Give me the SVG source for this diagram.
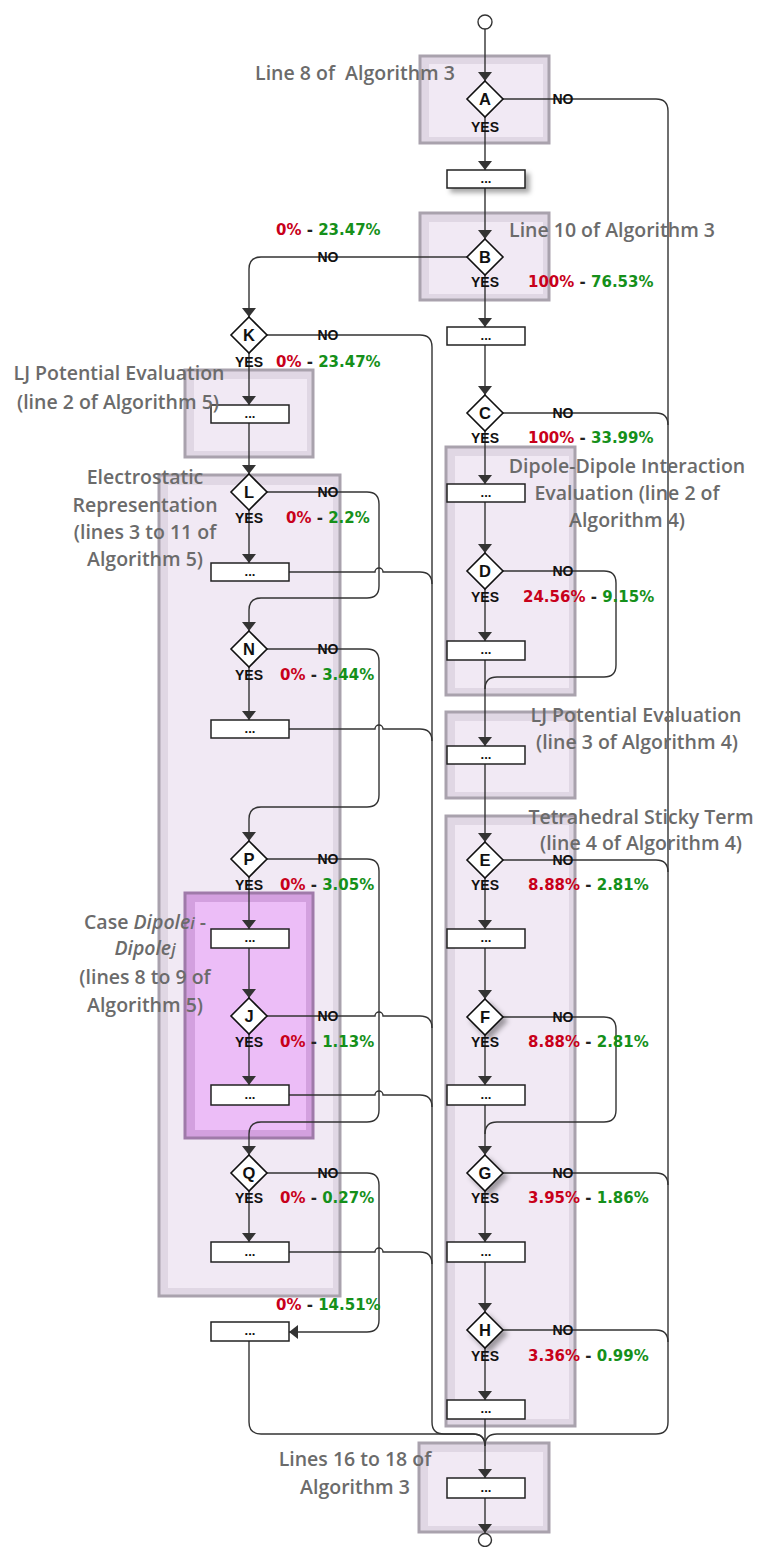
<svg xmlns="http://www.w3.org/2000/svg" width="759" height="1547" viewBox="0 0 759 1547">
<defs>
<style>
.ro{fill:#e0d7e4;stroke:#a9a2ad;stroke-width:3}
.ri{fill:#f1e9f4}
.co{fill:#d3a0df;stroke:#9f7aa9;stroke-width:3}
.ci{fill:#ecbdf7}
.ln{fill:none;stroke:#333;stroke-width:1.4}
.bx{fill:#fff;stroke:#222;stroke-width:1.5}
.dm{fill:#fff;stroke:#111;stroke-width:1.6}
.dl{font-family:"Liberation Sans",Arial,sans-serif;font-weight:bold;font-size:16.5px;fill:#111;text-anchor:middle}
.dt{font-family:"Liberation Sans",Arial,sans-serif;font-weight:bold;font-size:13px;fill:#111;text-anchor:middle}
.yn{font-family:"Liberation Sans",Arial,sans-serif;font-weight:bold;font-size:14px;fill:#111;text-anchor:middle}
.pc{font-family:"DejaVu Sans",sans-serif;font-weight:bold;font-size:15px}
.r{fill:#c8001a}.g{fill:#15901a}.k{fill:#222}
.lb{font-family:"Open Sans","Noto Sans",sans-serif;font-weight:600;font-size:19.5px;fill:#6b6b6b;text-anchor:middle}
</style>
<marker id="ar" viewBox="0 0 9 14" refX="9" refY="7" markerWidth="9" markerHeight="14" markerUnits="userSpaceOnUse" orient="auto"><path d="M0,0 L9,7 L0,14 z" fill="#333"/></marker>
<filter id="sh" x="-30%" y="-30%" width="170%" height="200%"><feDropShadow dx="4" dy="4" stdDeviation="2.5" flood-color="#000" flood-opacity="0.35"/></filter>
</defs>
<rect width="759" height="1547" fill="#fff"/>

<g id="regions">
<g id="reg-line8"><rect class="ro" x="420" y="56" width="129" height="87"/><rect class="ri" x="429" y="64" width="114" height="73"/></g>
<g id="reg-line10"><rect class="ro" x="420" y="213" width="129" height="87"/><rect class="ri" x="429" y="222" width="114" height="72"/></g>
<g id="reg-lj5"><rect class="ro" x="185" y="370" width="128" height="87"/><rect class="ri" x="194" y="379" width="113" height="72"/></g>
<g id="reg-electro"><rect class="ro" x="159" y="475" width="181" height="821"/><rect class="ri" x="168" y="485" width="165" height="803"/></g>
<g id="reg-case"><rect class="co" x="185" y="893" width="128" height="245"/><rect class="ci" x="195" y="902" width="111" height="228"/></g>
<g id="reg-dipole"><rect class="ro" x="446" y="447" width="129" height="248"/><rect class="ri" x="455" y="456" width="114" height="232"/></g>
<g id="reg-lj4"><rect class="ro" x="446" y="712" width="129" height="86"/><rect class="ri" x="455" y="721" width="114" height="71"/></g>
<g id="reg-tetra"><rect class="ro" x="446" y="816" width="129" height="610"/><rect class="ri" x="455" y="825" width="114" height="594"/></g>
<g id="reg-line16"><rect class="ro" x="419" y="1443" width="130" height="89"/><rect class="ri" x="428" y="1452" width="115" height="74"/></g>
</g>

<g id="connectors">
<path class="ln" d="M485,29 V81" marker-end="url(#ar)"/>
<path class="ln" d="M485,117 V170" marker-end="url(#ar)"/>
<path class="ln" d="M485,188 V239" marker-end="url(#ar)"/>
<path class="ln" d="M485,275 V327" marker-end="url(#ar)"/>
<path class="ln" d="M485,345 V395" marker-end="url(#ar)"/>
<path class="ln" d="M485,431 V484" marker-end="url(#ar)"/>
<path class="ln" d="M485,502 V553" marker-end="url(#ar)"/>
<path class="ln" d="M485,589 V641" marker-end="url(#ar)"/>
<path class="ln" d="M485,660 V746" marker-end="url(#ar)"/>
<path class="ln" d="M485,764 V842" marker-end="url(#ar)"/>
<path class="ln" d="M485,878 V929" marker-end="url(#ar)"/>
<path class="ln" d="M485,948 V999" marker-end="url(#ar)"/>
<path class="ln" d="M485,1035 V1085" marker-end="url(#ar)"/>
<path class="ln" d="M485,1105 V1155" marker-end="url(#ar)"/>
<path class="ln" d="M485,1191 V1242" marker-end="url(#ar)"/>
<path class="ln" d="M485,1262 V1312" marker-end="url(#ar)"/>
<path class="ln" d="M485,1348 V1400" marker-end="url(#ar)"/>
<path class="ln" d="M485,1419 V1478" marker-end="url(#ar)"/>
<path class="ln" d="M485,1498 V1533" marker-end="url(#ar)"/>
<path class="ln" d="M503,99 H656 Q668,99 668,111 V1422 Q668,1434 656,1434 H497 Q485,1434 485,1446"/>
<path class="ln" d="M503,413 H656 Q668,413 668,425"/>
<path class="ln" d="M503,860 H656 Q668,860 668,872"/>
<path class="ln" d="M503,1173 H656 Q668,1173 668,1185"/>
<path class="ln" d="M503,1330 H656 Q668,1330 668,1342"/>
<path class="ln" d="M503,571 H604 Q616,571 616,583 V665 Q616,677 604,677 H497 Q485,677 485,689"/>
<path class="ln" d="M503,1017 H604 Q616,1017 616,1029 V1110 Q616,1122 604,1122 H497 Q485,1122 485,1134"/>
<path class="ln" d="M467,257 H261 Q249,257 249,269 V317" marker-end="url(#ar)"/>
<path class="ln" d="M267,335 H420 Q432,335 432,347 V1422 Q432,1434 444,1434 H473 Q485,1434 485,1446"/>
<path class="ln" d="M249,353 V405" marker-end="url(#ar)"/>
<path class="ln" d="M249,423 V474" marker-end="url(#ar)"/>
<path class="ln" d="M249,510 V563" marker-end="url(#ar)"/>
<path class="ln" d="M267,492 H367 Q379,492 379,504 V586 Q379,598 367,598 H261 Q249,598 249,610 V631" marker-end="url(#ar)"/>
<path class="ln" d="M289,572 H375 A4,4 0 0 1 383,572 H420 Q432,572 432,584"/>
<path class="ln" d="M249,667 V720" marker-end="url(#ar)"/>
<path class="ln" d="M289,729 H375 A4,4 0 0 1 383,729 H420 Q432,729 432,741"/>
<path class="ln" d="M267,649 H367 Q379,649 379,661 V795 Q379,807 367,807 H261 Q249,807 249,819 V841" marker-end="url(#ar)"/>
<path class="ln" d="M249,877 V929" marker-end="url(#ar)"/>
<path class="ln" d="M249,948 V998" marker-end="url(#ar)"/>
<path class="ln" d="M267,1016 H375 A4,4 0 0 1 383,1016 H420 Q432,1016 432,1028"/>
<path class="ln" d="M249,1034 V1085" marker-end="url(#ar)"/>
<path class="ln" d="M289,1095 H375 A4,4 0 0 1 383,1095 H420 Q432,1095 432,1107"/>
<path class="ln" d="M267,859 H367 Q379,859 379,871 V1110 Q379,1122 367,1122 H261 Q249,1122 249,1134 V1155" marker-end="url(#ar)"/>
<path class="ln" d="M249,1191 V1242" marker-end="url(#ar)"/>
<path class="ln" d="M289,1252 H375 A4,4 0 0 1 383,1252 H420 Q432,1252 432,1264"/>
<path class="ln" d="M267,1173 H367 Q379,1173 379,1185 V1320 Q379,1332 367,1332 H289" marker-end="url(#ar)"/>
<path class="ln" d="M249,1341 V1422 Q249,1434 261,1434 H473 Q485,1434 485,1446"/>
</g>

<g id="start"><circle cx="485" cy="22" r="7" fill="#fff" stroke="#333" stroke-width="1.4"/></g>
<g id="end"><circle cx="485" cy="1540" r="6.5" fill="#fff" stroke="#333" stroke-width="1.4"/></g>

<g id="node-A"><path class="dm" d="M485,81 L503,99 L485,117 L467,99 Z"/><text class="dl" x="485" y="105">A</text></g>
<g id="box-1"><rect class="bx" x="447" y="170" width="78" height="18" filter="url(#sh)"/><text class="dt" x="486" y="183">...</text></g>
<g id="node-B"><path class="dm" d="M485,239 L503,257 L485,275 L467,257 Z"/><text class="dl" x="485" y="263">B</text></g>
<g id="box-2"><rect class="bx" x="447" y="327" width="78" height="18"/><text class="dt" x="486" y="340">...</text></g>
<g id="node-C"><path class="dm" d="M485,395 L503,413 L485,431 L467,413 Z"/><text class="dl" x="485" y="419">C</text></g>
<g id="box-3"><rect class="bx" x="447" y="484" width="78" height="18"/><text class="dt" x="486" y="497">...</text></g>
<g id="node-D"><path class="dm" d="M485,553 L503,571 L485,589 L467,571 Z"/><text class="dl" x="485" y="577">D</text></g>
<g id="box-4"><rect class="bx" x="447" y="641" width="78" height="19"/><text class="dt" x="486" y="654">...</text></g>
<g id="box-5"><rect class="bx" x="447" y="746" width="78" height="18"/><text class="dt" x="486" y="759">...</text></g>
<g id="node-E"><path class="dm" d="M485,842 L503,860 L485,878 L467,860 Z"/><text class="dl" x="485" y="866">E</text></g>
<g id="box-6"><rect class="bx" x="447" y="929" width="78" height="19"/><text class="dt" x="486" y="942">...</text></g>
<g id="node-F"><path class="dm" d="M485,999 L503,1017 L485,1035 L467,1017 Z" filter="url(#sh)"/><text class="dl" x="485" y="1023">F</text></g>
<g id="box-7"><rect class="bx" x="447" y="1085" width="78" height="20"/><text class="dt" x="486" y="1099">...</text></g>
<g id="node-G"><path class="dm" d="M485,1155 L503,1173 L485,1191 L467,1173 Z" filter="url(#sh)"/><text class="dl" x="485" y="1179">G</text></g>
<g id="box-8"><rect class="bx" x="447" y="1242" width="78" height="20"/><text class="dt" x="486" y="1256">...</text></g>
<g id="node-H"><path class="dm" d="M485,1312 L503,1330 L485,1348 L467,1330 Z" filter="url(#sh)"/><text class="dl" x="485" y="1336">H</text></g>
<g id="box-9"><rect class="bx" x="447" y="1400" width="78" height="19"/><text class="dt" x="486" y="1413">...</text></g>
<g id="box-final"><rect class="bx" x="447" y="1478" width="78" height="20"/><text class="dt" x="486" y="1492">...</text></g>

<g id="node-K"><path class="dm" d="M249,317 L267,335 L249,353 L231,335 Z"/><text class="dl" x="249" y="341">K</text></g>
<g id="box-lj5"><rect class="bx" x="211" y="405" width="78" height="18"/><text class="dt" x="250" y="418">...</text></g>
<g id="node-L"><path class="dm" d="M249,474 L267,492 L249,510 L231,492 Z"/><text class="dl" x="249" y="498">L</text></g>
<g id="box-L"><rect class="bx" x="211" y="563" width="78" height="18"/><text class="dt" x="250" y="576">...</text></g>
<g id="node-N"><path class="dm" d="M249,631 L267,649 L249,667 L231,649 Z"/><text class="dl" x="249" y="655">N</text></g>
<g id="box-N"><rect class="bx" x="211" y="720" width="78" height="18"/><text class="dt" x="250" y="733">...</text></g>
<g id="node-P"><path class="dm" d="M249,841 L267,859 L249,877 L231,859 Z"/><text class="dl" x="249" y="865">P</text></g>
<g id="box-P"><rect class="bx" x="211" y="929" width="78" height="19"/><text class="dt" x="250" y="942">...</text></g>
<g id="node-J"><path class="dm" d="M249,998 L267,1016 L249,1034 L231,1016 Z"/><text class="dl" x="249" y="1022">J</text></g>
<g id="box-J"><rect class="bx" x="211" y="1085" width="78" height="20"/><text class="dt" x="250" y="1099">...</text></g>
<g id="node-Q"><path class="dm" d="M249,1155 L267,1173 L249,1191 L231,1173 Z"/><text class="dl" x="249" y="1179">Q</text></g>
<g id="box-Q"><rect class="bx" x="211" y="1242" width="78" height="20"/><text class="dt" x="250" y="1256">...</text></g>
<g id="box-left-final"><rect class="bx" x="211" y="1322" width="78" height="19"/><text class="dt" x="250" y="1335">...</text></g>

<g id="yesno">
<text class="yn" x="563" y="104">NO</text><text class="yn" x="485" y="132">YES</text>
<text class="yn" x="328" y="262">NO</text><text class="yn" x="485" y="287">YES</text>
<text class="yn" x="563" y="418">NO</text><text class="yn" x="485" y="443">YES</text>
<text class="yn" x="563" y="576">NO</text><text class="yn" x="485" y="602">YES</text>
<text class="yn" x="563" y="865">NO</text><text class="yn" x="485" y="890">YES</text>
<text class="yn" x="563" y="1022">NO</text><text class="yn" x="485" y="1047">YES</text>
<text class="yn" x="563" y="1178">NO</text><text class="yn" x="485" y="1203">YES</text>
<text class="yn" x="563" y="1335">NO</text><text class="yn" x="485" y="1361">YES</text>
<text class="yn" x="328" y="340">NO</text><text class="yn" x="249" y="367">YES</text>
<text class="yn" x="328" y="497">NO</text><text class="yn" x="249" y="523">YES</text>
<text class="yn" x="328" y="654">NO</text><text class="yn" x="249" y="680">YES</text>
<text class="yn" x="328" y="864">NO</text><text class="yn" x="249" y="890">YES</text>
<text class="yn" x="328" y="1021">NO</text><text class="yn" x="249" y="1047">YES</text>
<text class="yn" x="328" y="1178">NO</text><text class="yn" x="249" y="1203">YES</text>
</g>

<g id="percentages">
<text class="pc" x="276" y="235"><tspan class="r">0%</tspan><tspan class="k"> - </tspan><tspan class="g">23.47%</tspan></text>
<text class="pc" x="528" y="287"><tspan class="r">100%</tspan><tspan class="k"> - </tspan><tspan class="g">76.53%</tspan></text>
<text class="pc" x="276" y="367"><tspan class="r">0%</tspan><tspan class="k"> - </tspan><tspan class="g">23.47%</tspan></text>
<text class="pc" x="528" y="443"><tspan class="r">100%</tspan><tspan class="k"> - </tspan><tspan class="g">33.99%</tspan></text>
<text class="pc" x="286" y="523"><tspan class="r">0%</tspan><tspan class="k"> - </tspan><tspan class="g">2.2%</tspan></text>
<text class="pc" x="523" y="602"><tspan class="r">24.56%</tspan><tspan class="k"> - </tspan><tspan class="g">9.15%</tspan></text>
<text class="pc" x="280" y="680"><tspan class="r">0%</tspan><tspan class="k"> - </tspan><tspan class="g">3.44%</tspan></text>
<text class="pc" x="280" y="890"><tspan class="r">0%</tspan><tspan class="k"> - </tspan><tspan class="g">3.05%</tspan></text>
<text class="pc" x="528" y="890"><tspan class="r">8.88%</tspan><tspan class="k"> - </tspan><tspan class="g">2.81%</tspan></text>
<text class="pc" x="280" y="1047"><tspan class="r">0%</tspan><tspan class="k"> - </tspan><tspan class="g">1.13%</tspan></text>
<text class="pc" x="528" y="1047"><tspan class="r">8.88%</tspan><tspan class="k"> - </tspan><tspan class="g">2.81%</tspan></text>
<text class="pc" x="280" y="1203"><tspan class="r">0%</tspan><tspan class="k"> - </tspan><tspan class="g">0.27%</tspan></text>
<text class="pc" x="528" y="1203"><tspan class="r">3.95%</tspan><tspan class="k"> - </tspan><tspan class="g">1.86%</tspan></text>
<text class="pc" x="276" y="1310"><tspan class="r">0%</tspan><tspan class="k"> - </tspan><tspan class="g">14.51%</tspan></text>
<text class="pc" x="528" y="1361"><tspan class="r">3.36%</tspan><tspan class="k"> - </tspan><tspan class="g">0.99%</tspan></text>
</g>

<g id="region-labels">
<text class="lb" x="355" y="80" xml:space="preserve">Line 8 of  Algorithm 3</text>
<text class="lb" x="612" y="237">Line 10 of Algorithm 3</text>
<text class="lb" x="119" y="380">LJ Potential Evaluation</text>
<text class="lb" x="118" y="409">(line 2 of Algorithm 5)</text>
<text class="lb" x="145" y="484">Electrostatic</text>
<text class="lb" x="145" y="512">Representation</text>
<text class="lb" x="145" y="539">(lines 3 to 11 of</text>
<text class="lb" x="145" y="566">Algorithm 5)</text>
<text class="lb" x="627" y="473">Dipole-Dipole Interaction</text>
<text class="lb" x="627" y="500">Evaluation (line 2 of</text>
<text class="lb" x="627" y="527">Algorithm 4)</text>
<text class="lb" x="636" y="722">LJ Potential Evaluation</text>
<text class="lb" x="637" y="749">(line 3 of Algorithm 4)</text>
<text class="lb" x="641" y="824">Tetrahedral Sticky Term</text>
<text class="lb" x="641" y="850">(line 4 of Algorithm 4)</text>
<text class="lb" x="145" y="929">Case <tspan font-style="italic">Dipole<tspan font-size="16px">i</tspan></tspan> -</text>
<text class="lb" x="145" y="955" font-style="italic">Dipole<tspan font-size="16px">j</tspan></text>
<text class="lb" x="145" y="984">(lines 8 to 9 of</text>
<text class="lb" x="145" y="1012">Algorithm 5)</text>
<text class="lb" x="355" y="1466">Lines 16 to 18 of</text>
<text class="lb" x="355" y="1494">Algorithm 3</text>
</g>
</svg>
